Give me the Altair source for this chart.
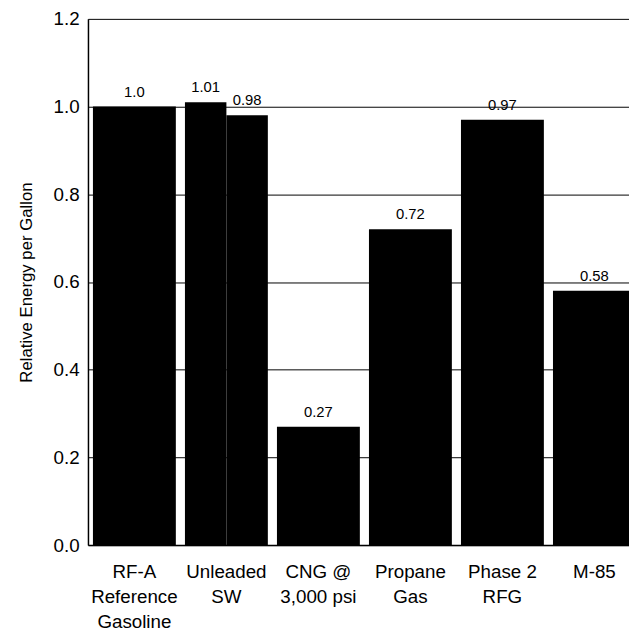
import altair as alt
import pandas as pd

categories = ["RF-A|Reference|Gasoline", "Unleaded|SW", "CNG @|3,000 psi",
              "Propane|Gas", "Phase 2|RFG", "M-85"]
single_cats = ["RF-A|Reference|Gasoline", "CNG @|3,000 psi", "Propane|Gas",
               "Phase 2|RFG", "M-85"]
single_vals = [1.0, 0.27, 0.72, 0.97, 0.58]
single_labels = ["1.0", "0.27", "0.72", "0.97", "0.58"]
pair_cat = "Unleaded|SW"
pair_sub = ["a", "b"]
pair_vals = [1.01, 0.98]
pair_labels = ["1.01", "0.98"]
y_ticks = [0.0, 0.2, 0.4, 0.6, 0.8, 1.0, 1.2]

FONT = "Liberation Sans"

single_df = pd.DataFrame({"cat": single_cats, "val": single_vals, "lab": single_labels})
pair_df = pd.DataFrame({"cat": [pair_cat] * len(pair_sub), "sub": pair_sub,
                        "val": pair_vals, "lab": pair_labels})

x_enc = alt.X(
    "cat:N",
    sort=categories,
    scale=alt.Scale(domain=categories, range=[0, 560], paddingInner=0.099, paddingOuter=0.054),
    axis=alt.Axis(
        title=None,
        labelExpr="split(datum.label, '|')",
        labelAngle=0,
        labelFont=FONT,
        labelFontSize=19,
        labelLineHeight=25,
        labelPadding=18,
        labelColor="black",
        labelOverlap=False,
        ticks=False,
        domainColor="black",
        domainWidth=1.5,
    ),
)
y_enc = alt.Y(
    "val:Q",
    scale=alt.Scale(domain=[0, 1.2], nice=False, zero=True),
    axis=alt.Axis(
        values=y_ticks,
        format=".1f",
        grid=True,
        gridColor="black",
        gridWidth=1,
        gridOpacity=1,
        domainColor="black",
        domainWidth=1.5,
        ticks=False,
        labelFont=FONT,
        labelFontSize=19,
        labelPadding=9,
        labelColor="black",
        title="Relative Energy per Gallon",
        titleFont=FONT,
        titleFontSize=17,
        titleFontWeight="normal",
        titleColor="black",
        titlePadding=18,
    ),
)

bars1 = alt.Chart(single_df).mark_bar(color="black").encode(x=x_enc, y=y_enc)
text1 = alt.Chart(single_df).mark_text(
    font=FONT, fontSize=15, color="black", baseline="alphabetic", dy=-10
).encode(x=alt.X("cat:N", sort=categories), y="val:Q", text="lab:N")

off = alt.XOffset("sub:N", scale=alt.Scale(paddingInner=0, paddingOuter=0))
bars2 = alt.Chart(pair_df).mark_bar(color="black").encode(
    x=alt.X("cat:N", sort=categories), xOffset=off, y="val:Q")
text2 = alt.Chart(pair_df).mark_text(
    font=FONT, fontSize=15, color="black", baseline="alphabetic", dy=-10
).encode(x=alt.X("cat:N", sort=categories), xOffset=off, y="val:Q", text="lab:N")

chart = (
    alt.layer(bars1, bars2, text1, text2)
    .properties(
        width=548,
        height=533,
        autosize=alt.AutoSizeParams(type="none"),
        padding={"left": 81, "top": 7, "right": 0, "bottom": 83},
        background="white",
    )
    .configure_view(stroke=None)
)

chart.save("out.html", embed_options={"renderer": "svg", "actions": False})
